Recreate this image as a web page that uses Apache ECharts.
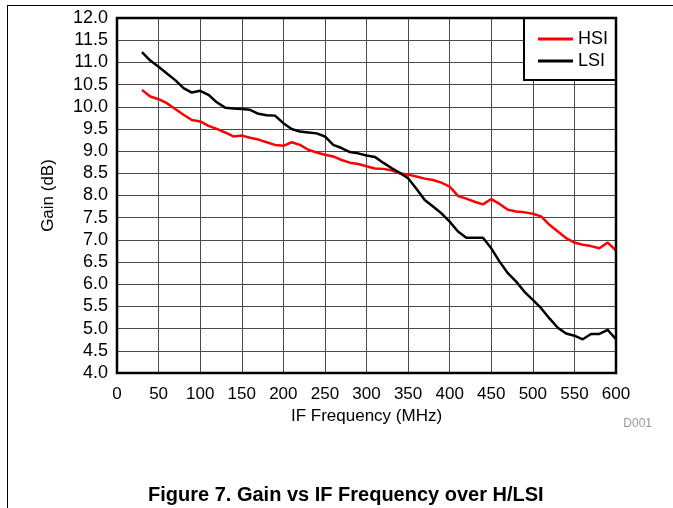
<!DOCTYPE html>
<html>
<head>
<meta charset="utf-8">
<script src="https://cdn.jsdelivr.net/npm/echarts@6/dist/echarts.min.js"></script>
<style>
html,body{margin:0;padding:0;background:#fff;}
#chart{width:673px;height:508px;}
</style>
</head>
<body>
<div id="chart"></div>
<script>
// Frequency (MHz)
const freq = [30,40,50,60,70,80,90,100,110,120,130,140,150,160,170,180,190,200,210,220,230,240,250,260,270,280,290,300,310,320,330,340,350,360,370,380,390,400,410,420,430,440,450,460,470,480,490,500,510,520,530,540,550,560,570,580,590,600];
// HSI gain (dB)
const hsi = [10.38,10.23,10.17,10.08,9.95,9.82,9.70,9.67,9.57,9.50,9.42,9.33,9.35,9.30,9.26,9.20,9.14,9.12,9.20,9.14,9.03,8.97,8.92,8.88,8.80,8.74,8.71,8.66,8.61,8.60,8.57,8.50,8.47,8.43,8.38,8.35,8.29,8.20,7.99,7.93,7.86,7.80,7.92,7.81,7.68,7.64,7.62,7.59,7.53,7.34,7.19,7.04,6.94,6.89,6.86,6.81,6.94,6.76];
// LSI gain (dB)
const lsi = [11.23,11.04,10.90,10.75,10.60,10.42,10.32,10.36,10.27,10.10,9.98,9.96,9.95,9.93,9.84,9.81,9.80,9.63,9.50,9.44,9.42,9.40,9.33,9.14,9.07,8.98,8.95,8.90,8.87,8.74,8.62,8.51,8.39,8.15,7.90,7.75,7.60,7.41,7.19,7.05,7.05,7.05,6.81,6.51,6.25,6.06,5.83,5.65,5.46,5.23,5.02,4.89,4.84,4.76,4.88,4.88,4.97,4.76];
const seriesNames = ['HSI','LSI'];
const xTicks = [0,50,100,150,200,250,300,350,400,450,500,550,600];
const yTicks = [4.0,4.5,5.0,5.5,6.0,6.5,7.0,7.5,8.0,8.5,9.0,9.5,10.0,10.5,11.0,11.5,12.0];

const FONT = 'Arial, "Liberation Sans", sans-serif';
const chart = echarts.init(document.getElementById('chart'), null, {renderer:'canvas'});
chart.setOption({
  animation:false,
  backgroundColor:'#fff',
  textStyle:{fontFamily:FONT},
  grid:{left:117,right:57,top:18,bottom:135,show:true,borderColor:'#000',borderWidth:2.5,backgroundColor:'transparent',z:10},
  xAxis:{
    type:'value',min:xTicks[0],max:xTicks[xTicks.length-1],interval:50,
    name:'IF Frequency (MHz)',nameLocation:'middle',nameGap:32,
    nameTextStyle:{fontSize:17,color:'#000',fontFamily:FONT},
    axisLine:{show:false},axisTick:{show:false},
    axisLabel:{fontSize:17,color:'#000',margin:13,fontFamily:FONT},
    splitLine:{show:true,lineStyle:{color:'#4a4a4a',width:1}}
  },
  yAxis:{
    type:'value',min:yTicks[0],max:yTicks[yTicks.length-1],interval:0.5,
    name:'Gain (dB)',nameLocation:'middle',nameGap:60,
    nameTextStyle:{fontSize:17,color:'#000',fontFamily:FONT},
    axisLine:{show:false},axisTick:{show:false},
    axisLabel:{fontSize:18,color:'#000',margin:9,fontFamily:FONT,formatter:v=>v.toFixed(1)},
    splitLine:{show:true,lineStyle:{color:'#4a4a4a',width:1}}
  },
  legend:{
    right:57,top:18,orient:'vertical',
    backgroundColor:'#fff',borderColor:'#000',borderWidth:2,borderRadius:0,
    padding:[12,8,10,14],itemGap:4,
    itemWidth:35,itemHeight:3,icon:'rect',
    textStyle:{fontSize:18,color:'#000',fontFamily:FONT},
    data:seriesNames
  },
  series:[
    {name:seriesNames[0],type:'line',data:freq.map((f,i)=>[f,hsi[i]]),symbol:'none',
     lineStyle:{color:'#ff0000',width:2.5},itemStyle:{color:'#ff0000'},z:3},
    {name:seriesNames[1],type:'line',data:freq.map((f,i)=>[f,lsi[i]]),symbol:'none',
     lineStyle:{color:'#000',width:2.5},itemStyle:{color:'#000'},z:4}
  ],
  graphic:[
    {type:'line',shape:{x1:7,y1:5.5,x2:673,y2:5.5},style:{stroke:'#000',lineWidth:1}},
    {type:'line',shape:{x1:7.5,y1:5,x2:7.5,y2:508},style:{stroke:'#000',lineWidth:1}},
    {type:'text',left:148,top:485,style:{text:'Figure 7. Gain vs IF Frequency over H/LSI',font:'bold 20px '+FONT,fill:'#000'}},
    {type:'text',right:21,top:418,style:{text:'D001',font:'12px '+FONT,fill:'#999'}}
  ]
});
</script>
</body>
</html>
